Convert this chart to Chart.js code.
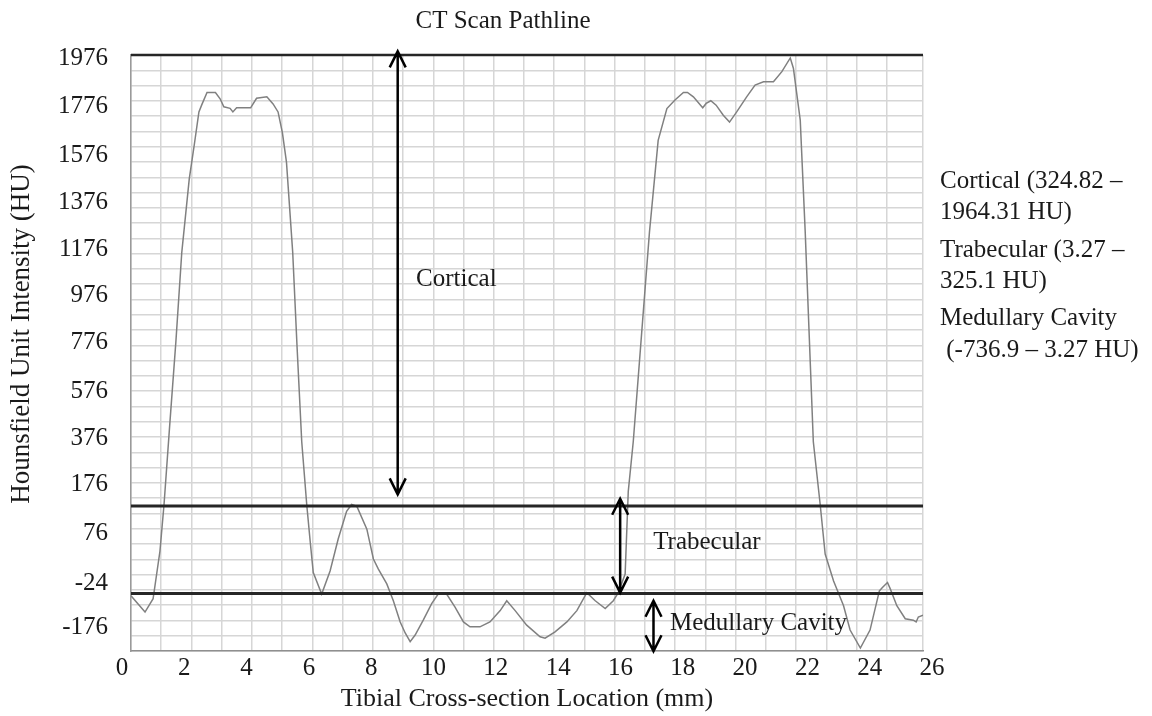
<!DOCTYPE html>
<html>
<head>
<meta charset="utf-8">
<title>CT Scan Pathline</title>
<script src="https://cdn.jsdelivr.net/npm/chart.js@4.4.1/dist/chart.umd.min.js"></script>
<style>
  html, body { margin: 0; padding: 0; background: #fff; }
  canvas { display: block; }
</style>
</head>
<body>
<canvas id="chart" width="1152" height="716"></canvas>
<script>
const positions = [
  0.29, 0.74, 1.00, 1.22, 1.35, 1.54, 1.73, 1.92, 2.16, 2.32, 2.47, 2.56, 2.73, 3.00, 3.15, 3.27,
  3.47, 3.56, 3.68, 4.13, 4.32, 4.65, 4.85, 5.01, 5.15, 5.28, 5.48, 5.62, 5.77, 5.93, 6.04, 6.14,
  6.41, 6.68, 6.94, 7.21, 7.37, 7.54, 7.86, 8.07, 8.23, 8.50, 8.71, 8.93, 9.09, 9.25, 9.41, 9.67,
  9.94, 10.15, 10.42, 10.69, 10.96, 11.17, 11.49, 11.81, 12.14, 12.35, 12.62, 12.99, 13.42, 13.58,
  13.90, 14.28, 14.60, 14.92, 15.19, 15.51, 15.77, 15.93, 16.15, 16.25, 16.41, 16.93, 17.21, 17.49,
  17.75, 18.02, 18.15, 18.34, 18.64, 18.75, 18.90, 19.07, 19.30, 19.50, 19.73, 20.05, 20.32, 20.59,
  20.91, 21.18, 21.45, 21.55, 21.77, 21.93, 22.19, 22.41, 22.57, 22.84, 23.16, 23.37, 23.70, 24.01,
  24.31, 24.40, 24.57, 24.66, 24.87, 25.14, 25.40, 25.49, 25.56, 25.71
];
const intensity = [
  -68, -124, -78, 40, 135, 447, 780, 1163, 1475, 1618, 1755, 1784, 1835, 1835, 1809, 1776,
  1770, 1755, 1772, 1772, 1811, 1817, 1788, 1755, 1668, 1546, 1163, 759, 363, 135, 60, -3,
  -62, 0, 64, 121, 135, 131, 84, 24, 4, -27, -85, -158, -196, -226, -203, -152,
  -95, -62, -62, -107, -158, -175, -175, -158, -119, -85, -119, -169, -209, -214,
  -192, -158, -119, -57, -85, -112, -85, -57, -6, 162, 363, 1248, 1637, 1769,
  1804, 1835, 1835, 1817, 1772, 1790, 1801, 1783, 1741, 1713, 1755, 1817, 1865, 1879,
  1879, 1920, 1976, 1934, 1721, 1248, 363, 135, 34, -20, -102, -186, -248, -186,
  -51, -40, -23, -44, -102, -147, -152, -158, -141, -135
];

// axis labels as printed (the HU axis is not evenly spaced)
const xTicks = [0, 2, 4, 6, 8, 10, 12, 14, 16, 18, 20, 22, 24, 26];
const yTicks = [1976, 1776, 1576, 1376, 1176, 976, 776, 576, 376, 176, 76, -24, -176];
// where each HU label sits, as a share of the plot height from the bottom
const yTickPos = [0.995, 0.913, 0.832, 0.753, 0.674, 0.596, 0.517, 0.436, 0.356, 0.279, 0.198, 0.114, 0.040];

// region boundaries, arrows and notes (in mm / HU)
const bandLines = [132, -60];
const arrows = [
  { x: 8.85, from: 2003, to: 156 },
  { x: 15.99, from: 147, to: -57 },
  { x: 17.06, from: -85, to: -259 }
];
const bandNotes = [
  { text: 'Cortical', x: 9.44, y: 1048 },
  { text: 'Trabecular', x: 17.05, y: 57 },
  { text: 'Medullary Cavity', x: 17.59, y: -162 }
];
const legendLines = [
  'Cortical (324.82 \u2013', '1964.31 HU)',
  'Trabecular (3.27 \u2013', '325.1 HU)',
  'Medullary Cavity', ' (-736.9 \u2013 3.27 HU)'
];
const legendY = [181, 212, 250, 281, 318, 350];
const yTitle = 'Hounsfield Unit Intensity (HU)';

const FAMILY = "'Liberation Serif', 'Times New Roman', serif";
const TEXT = '#1a1a1a';
const font = { family: FAMILY, size: 25, lineHeight: 1.2 };

function huToDecimal(v) {
  const n = yTicks.length;
  let i = 0;
  while (i < n - 2 && v < yTicks[i + 1]) i++;
  const a = yTicks[i], b = yTicks[i + 1];
  const pa = yTickPos[i], pb = yTickPos[i + 1];
  return pb + (v - b) / (a - b) * (pa - pb);
}

function decimalToHu(d) {
  const n = yTickPos.length;
  let i = 0;
  while (i < n - 2 && d < yTickPos[i + 1]) i++;
  const a = yTicks[i], b = yTicks[i + 1];
  const pa = yTickPos[i], pb = yTickPos[i + 1];
  return b + (d - pb) / (pa - pb) * (a - b);
}

// linear scale with the uneven HU labels of the original
class KnotScale extends Chart.LinearScale {
  buildTicks() {
    this.min = yTicks[yTicks.length - 1];
    this.max = yTicks[0];
    return yTicks.map(v => ({ value: v }));
  }
  getPixelForValue(v) {
    return this.getPixelForDecimal(huToDecimal(v));
  }
  getValueForPixel(p) {
    return decimalToHu(this.getDecimalForPixel(p));
  }
}
KnotScale.id = 'knots';
KnotScale.defaults = {};
Chart.register(KnotScale);

const overlay = {
  id: 'overlay',
  afterDatasetsDraw(chart) {
    const { ctx, chartArea: a, scales: { x, y } } = chart;
    ctx.save();

    ctx.strokeStyle = '#262626';
    ctx.lineWidth = 2.5;
    ctx.beginPath();
    ctx.moveTo(a.left, a.top);
    ctx.lineTo(a.right, a.top);
    ctx.stroke();

    ctx.lineWidth = 3;
    bandLines.forEach(v => {
      const py = y.getPixelForValue(v);
      ctx.beginPath();
      ctx.moveTo(a.left, py);
      ctx.lineTo(a.right, py);
      ctx.stroke();
    });

    ctx.strokeStyle = '#000';
    ctx.lineWidth = 2.5;
    arrows.forEach(ar => {
      const px = x.getPixelForValue(ar.x);
      const p1 = y.getPixelForValue(ar.from);
      const p2 = y.getPixelForValue(ar.to);
      ctx.beginPath();
      ctx.moveTo(px, p1);
      ctx.lineTo(px, p2);
      ctx.moveTo(px - 8, p1 + 16);
      ctx.lineTo(px, p1);
      ctx.lineTo(px + 8, p1 + 16);
      ctx.moveTo(px - 8, p2 - 16);
      ctx.lineTo(px, p2);
      ctx.lineTo(px + 8, p2 - 16);
      ctx.stroke();
    });

    ctx.font = '25px ' + FAMILY;
    ctx.fillStyle = TEXT;
    ctx.textBaseline = 'middle';
    ctx.textAlign = 'left';
    bandNotes.forEach(n => {
      ctx.fillText(n.text, x.getPixelForValue(n.x), y.getPixelForValue(n.y));
    });
    legendLines.forEach((t, i) => ctx.fillText(t, 940, legendY[i]));

    // y axis title sits a little above the middle of the plot in the original
    ctx.font = '27px ' + FAMILY;
    ctx.textAlign = 'center';
    ctx.translate(22, 334);
    ctx.rotate(-Math.PI / 2);
    ctx.fillText(yTitle, 0, 0);

    ctx.restore();
  }
};

new Chart(document.getElementById('chart'), {
  type: 'line',
  data: {
    datasets: [{
      data: positions.map((x, i) => ({ x: x, y: intensity[i] })),
      borderColor: '#808080',
      borderWidth: 1.5,
      pointRadius: 0,
      tension: 0,
      xAxisID: 'x',
      yAxisID: 'y'
    }]
  },
  options: {
    responsive: false,
    animation: false,
    devicePixelRatio: 1,
    layout: { padding: { left: 0, right: 146, top: 0, bottom: 0 } },
    plugins: {
      legend: { display: false },
      tooltip: { enabled: false },
      title: {
        display: true,
        text: 'CT Scan Pathline',
        color: TEXT,
        font: { ...font, weight: 'normal' },
        padding: { top: 6, bottom: 19 }
      }
    },
    scales: {
      x: {
        type: 'linear',
        position: 'bottom',
        min: 0.29,
        max: 25.71,
        afterBuildTicks: s => { s.ticks = xTicks.map(v => ({ value: v })); },
        afterFit: s => { s.height = 65; },
        grid: { display: false, drawTicks: false },
        border: { display: true, color: '#8f8f8f', width: 1.5 },
        ticks: { autoSkip: false, maxRotation: 0, padding: 2, color: TEXT, font: font, callback: v => String(v) },
        title: {
          display: true,
          text: 'Tibial Cross-section Location (mm)',
          color: TEXT,
          font: { family: FAMILY, size: 26, lineHeight: 1.2 },
          padding: { top: 0, bottom: 1 }
        }
      },
      y: {
        type: 'knots',
        position: 'left',
        afterFit: s => { s.width = 131; },
        grid: { display: false, drawTicks: false },
        border: { display: true, color: '#9a9a9a', width: 1.5, dash: [2, 2] },
        ticks: { autoSkip: false, padding: 23, color: TEXT, font: font, callback: v => String(v) },
        title: { display: false }
      },
      xg: {
        type: 'linear',
        position: 'top',
        min: 0,
        max: 26.2,
        afterFit: s => { s.height = 0; },
        ticks: { display: false, stepSize: 1 },
        grid: { color: '#d6d6d6', lineWidth: 1.5, drawTicks: false },
        border: { display: false }
      },
      yg: {
        type: 'linear',
        position: 'right',
        min: 0,
        max: 39,
        afterFit: s => { s.width = 83; },
        ticks: { display: false, stepSize: 1 },
        grid: { color: '#d6d6d6', lineWidth: 1.5, drawTicks: false },
        border: { display: false }
      }
    }
  },
  plugins: [overlay]
});
</script>
</body>
</html>
